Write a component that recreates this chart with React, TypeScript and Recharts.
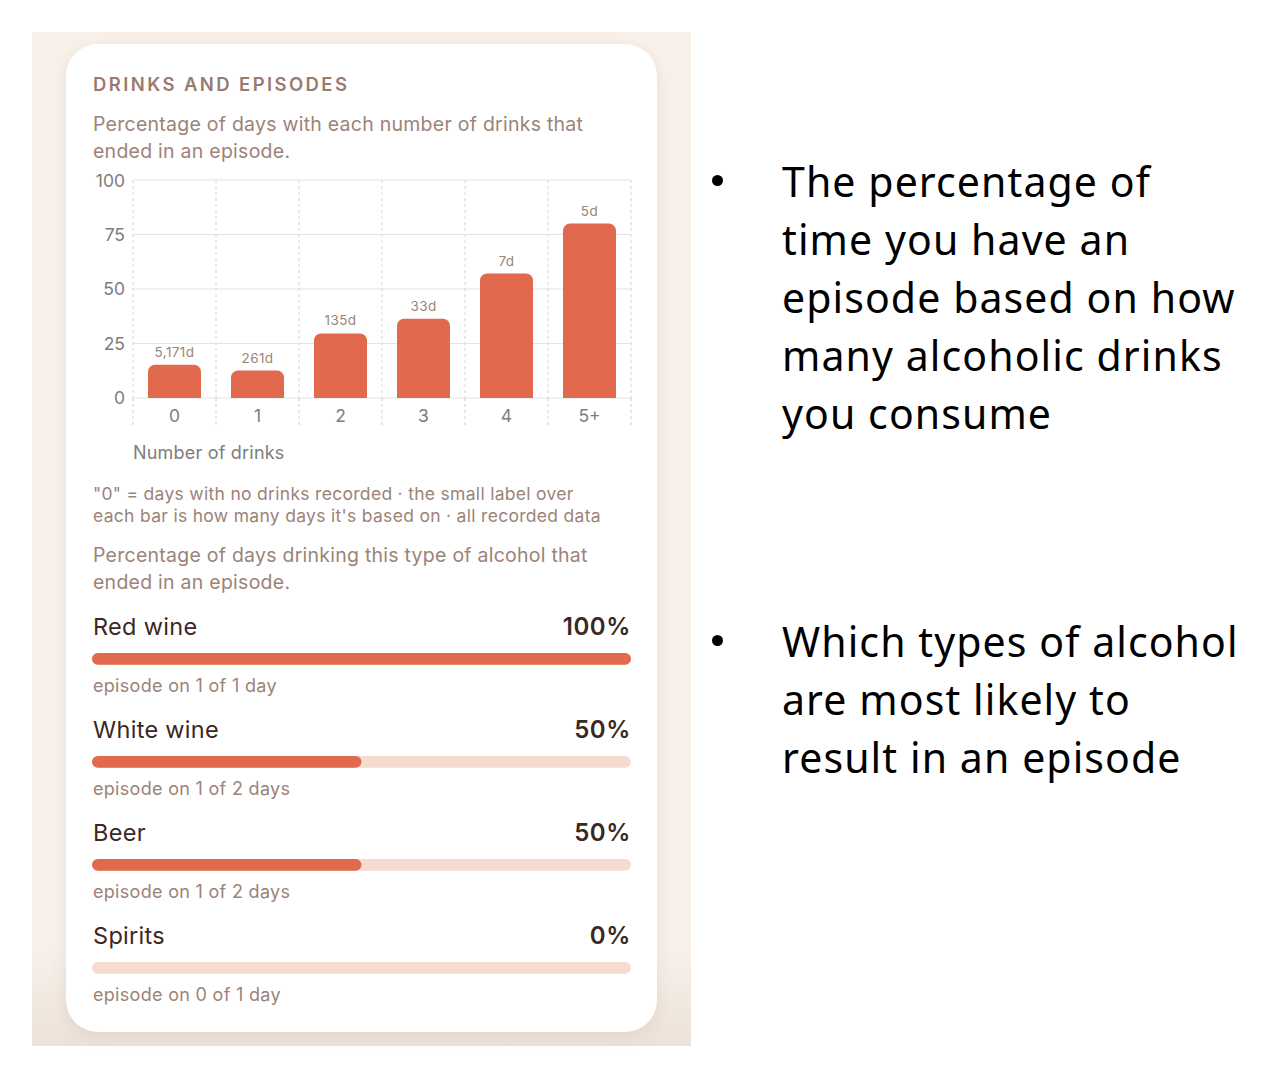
import React from "react";
import {
  BarChart,
  Bar,
  XAxis,
  YAxis,
  CartesianGrid,
  LabelList,
} from "recharts";

// drinks per day -> % of those days that ended in an episode
const drinkCategories = ["0", "1", "2", "3", "4", "5+"];
const episodePct = [15.3, 12.6, 29.6, 36.4, 57.1, 80];
const basedOnDays = [5171, 261, 135, 33, 7, 5];
const yTicks = [0, 25, 50, 75, 100];

// alcohol types
const alcoholTypes = ["Red wine", "White wine", "Beer", "Spirits"];
const typeEpisodeDays = [1, 1, 1, 0];
const typeTotalDays = [1, 2, 2, 1];

const bulletOne = ["The percentage of", "time you have an", "episode based on how", "many alcoholic drinks", "you consume"];
const bulletTwo = ["Which types of alcohol", "are most likely to", "result in an episode"];

const drinkData = drinkCategories.map((c, i) => ({
  cat: c,
  pct: episodePct[i],
  days: basedOnDays[i],
}));

const ORANGE = "#e0694e";
const TRACK = "#f6dcd0";
const MUTED = "#9c8377";
const SANS = "Inter, 'Noto Sans', sans-serif";

const DrinkTick = (props: any) => {
  const { x, y, payload, index } = props;
  const band = (props.width || 498) / drinkCategories.length;
  const left = x - band / 2;
  return (
    <g>
      <line x1={left} y1={y} x2={left} y2={y + 27} stroke="#cfcfcf" strokeDasharray="3 3" />
      {index === drinkCategories.length - 1 && (
        <line x1={left + band} y1={y} x2={left + band} y2={y + 27} stroke="#cfcfcf" strokeDasharray="3 3" />
      )}
      <text x={x} y={y + 18} dy="0.36em" textAnchor="middle" fill="#7d7d7d" fontSize={17.5} fontFamily={SANS}>
        {payload.value}
      </text>
    </g>
  );
};

const txt = (top: number, left: number, style: React.CSSProperties, children: React.ReactNode) => (
  <div style={{ position: "absolute", top, left, whiteSpace: "nowrap", ...style }}>{children}</div>
);

const AlcoholRow = ({ i }: { i: number }) => {
  const pct = Math.round((typeEpisodeDays[i] / typeTotalDays[i]) * 100);
  const base = 627 + i * 103;
  const dayWord = typeTotalDays[i] === 1 ? "day" : "days";
  return (
    <>
      {txt(base - 15, 93, { fontSize: 23.5, lineHeight: "30px", letterSpacing: 0.3, color: "#3a2823", fontFamily: SANS }, alcoholTypes[i])}
      <div
        style={{
          position: "absolute",
          top: base - 15,
          left: 431,
          width: 200,
          textAlign: "right",
          fontSize: 24,
          lineHeight: "30px",
          fontWeight: 600,
          letterSpacing: 0.6,
          color: "#3a2823",
          fontFamily: SANS,
        }}
      >
        {pct}%
      </div>
      <div style={{ position: "absolute", top: base + 25, left: 92 }}>
        <BarChart
          width={539}
          height={13}
          layout="vertical"
          data={[{ name: alcoholTypes[i], full: 100, pct }]}
          margin={{ top: 0, right: 0, bottom: 0, left: 0 }}
        >
          <XAxis type="number" domain={[0, 100]} hide />
          <YAxis yAxisId="track" type="category" dataKey="name" hide />
          <YAxis yAxisId="fill" type="category" dataKey="name" hide />
          <Bar yAxisId="track" dataKey="full" fill={TRACK} barSize={13} radius={6.5} isAnimationActive={false} />
          <Bar yAxisId="fill" dataKey="pct" fill={ORANGE} barSize={13} radius={6.5} isAnimationActive={false} />
        </BarChart>
      </div>
      {txt(base + 48, 93, { fontSize: 18, lineHeight: "22px", letterSpacing: 0.3, color: MUTED, fontFamily: SANS }, `episode on ${typeEpisodeDays[i]} of ${typeTotalDays[i]} ${dayWord}`)}
    </>
  );
};

const Bullet = ({ top, lines }: { top: number; lines: string[] }) => (
  <>
    <div style={{ position: "absolute", top: top - 6, left: 712, width: 11, height: 11, borderRadius: 6, background: "#000" }} />
    {lines.map((l, k) =>
      txt(top - 29 + k * 58, 782, { fontSize: 41, lineHeight: "58px", letterSpacing: 1.1, color: "#000", fontFamily: "'Noto Sans', sans-serif" }, l)
    )}
  </>
);

export default function App() {
  return (
    <div style={{ position: "absolute", left: 0, top: 0, width: 1280, height: 1078, background: "#fff", overflow: "hidden" }}>
      {/* beige backdrop */}
      <div
        style={{
          position: "absolute",
          left: 32,
          top: 32,
          width: 659,
          height: 1014,
          background: "linear-gradient(180deg, #f8f1ea 0%, #f8f1ea 90%, #ece2d9 100%)",
        }}
      />
      {/* card */}
      <div
        style={{
          position: "absolute",
          left: 66,
          top: 44,
          width: 591,
          height: 988,
          background: "#ffffff",
          borderRadius: 32,
          boxShadow: "0 4px 16px rgba(170,140,120,0.18)",
        }}
      />

      {txt(72, 93, { fontSize: 18.5, lineHeight: "24px", fontWeight: 600, letterSpacing: 2.4, color: "#9a7c6f", fontFamily: SANS }, "DRINKS AND EPISODES")}
      {txt(111, 93, { fontSize: 19.5, lineHeight: "27px", letterSpacing: 0.25, color: MUTED, fontFamily: SANS }, <>Percentage of days with each number of drinks that<br />ended in an episode.</>)}

      <div style={{ position: "absolute", top: 170, left: 85 }}>
        <BarChart width={560} height={270} data={drinkData} margin={{ top: 10, right: 14, bottom: 12, left: 0 }}>
          <CartesianGrid horizontal={false} stroke="#d4d4d4" strokeDasharray="3 3"
            verticalCoordinatesGenerator={({ offset }: any) =>
              [...drinkCategories, ""].map((_, k) => offset.left + (k * offset.width) / drinkCategories.length)
            }
          />
          <CartesianGrid vertical={false} stroke="#e3e3e3" />
          <XAxis dataKey="cat" axisLine={false} tickLine={false} tickSize={0} tickMargin={0} height={30} tick={<DrinkTick />} interval={0} />
          <YAxis
            domain={[0, 100]}
            ticks={yTicks}
            width={48}
            axisLine={false}
            tickLine={false}
            tick={{ fill: "#7d7d7d", fontSize: 17.5, fontFamily: SANS }}
          />
          <Bar dataKey="pct" fill={ORANGE} barSize={53} radius={[7, 7, 0, 0]} isAnimationActive={false}>
            <LabelList
              dataKey="days"
              position="top"
              offset={8}
              formatter={(v: any) => `${Number(v).toLocaleString("en-US")}d`}
              style={{ fill: "#9a8379", fontSize: 13.5, letterSpacing: 0.4, fontFamily: SANS }}
            />
          </Bar>
        </BarChart>
      </div>

      {txt(442, 133, { fontSize: 18, lineHeight: "22px", letterSpacing: 0.2, color: "#7d7d7d", fontFamily: SANS }, "Number of drinks")}
      {txt(483, 93, { fontSize: 17.5, lineHeight: "22px", letterSpacing: 0.3, color: MUTED, fontFamily: SANS }, <>"0" = days with no drinks recorded · the small label over<br />each bar is how many days it's based on · all recorded data</>)}
      {txt(542, 93, { fontSize: 19.5, lineHeight: "27px", letterSpacing: 0.25, color: MUTED, fontFamily: SANS }, <>Percentage of days drinking this type of alcohol that<br />ended in an episode.</>)}

      {alcoholTypes.map((_, i) => (
        <AlcoholRow key={i} i={i} />
      ))}

      <Bullet top={181} lines={bulletOne} />
      <Bullet top={641} lines={bulletTwo} />
    </div>
  );
}
